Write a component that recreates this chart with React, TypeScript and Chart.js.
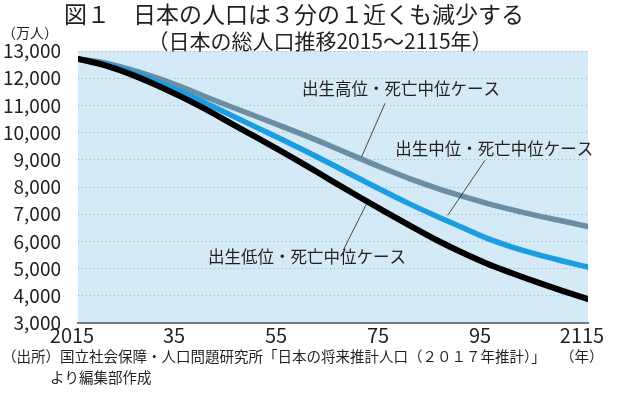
import { useEffect, useRef } from 'react';
import { Chart, registerables } from 'chart.js';

Chart.register(...registerables);

const FONT = '"Noto Sans CJK JP", "Noto Sans", sans-serif';
const TEXT = '#231f20';

// Years of the projection (x categories)
const years = [2015, 2020, 2025, 2030, 2035, 2040, 2045, 2050, 2055, 2060, 2065, 2070, 2075, 2080, 2085, 2090, 2095, 2100, 2105, 2110, 2115];

// 出生高位・死亡中位ケース (万人)
const highFertility = [12709, 12570, 12330, 12040, 11700, 11320, 10950, 10590, 10230, 9860, 9470, 9070, 8680, 8310, 7980, 7680, 7410, 7170, 6950, 6750, 6550];
// 出生中位・死亡中位ケース (万人)
const mediumFertility = [12709, 12532, 12254, 11913, 11522, 11092, 10642, 10192, 9744, 9284, 8808, 8323, 7842, 7380, 6950, 6540, 6130, 5800, 5520, 5280, 5056];
// 出生低位・死亡中位ケース (万人)
const lowFertility = [12709, 12490, 12170, 11780, 11340, 10860, 10340, 9820, 9300, 8760, 8200, 7650, 7110, 6590, 6080, 5620, 5200, 4840, 4500, 4180, 3880];

const xTickYears = [2015, 2035, 2055, 2075, 2095, 2115];
const yMin = 3000;
const yMax = 13000;
const yStep = 1000;

const seriesNames = ['出生低位・死亡中位ケース', '出生中位・死亡中位ケース', '出生高位・死亡中位ケース'];

const titleText = '図１　日本の人口は３分の１近くも減少する';
const subtitleText = '（日本の総人口推移2015～2115年）';
const unitText = '（万人）';
const xUnitText = '（年）';
const sourceLine1 = '（出所）国立社会保障・人口問題研究所「日本の将来推計人口（２０１７年推計）」';
const sourceLine2 = 'より編集部作成';

// Label annotations in data coordinates: text anchor and leader line ends
const annotations = [
  { text: seriesNames[2], x: 2058.9, y: 11629, from: [2075.2, 11078], to: [2070.6, 9103] },
  { text: seriesNames[1], x: 2077.2, y: 9423, from: [2094.8, 8982], to: [2087.5, 6960] },
  { text: seriesNames[0], x: 2040.5, y: 5452, from: [2071.6, 7390], to: [2067.0, 5673] },
];

const toPoints = (vals: number[]) => years.map((yr, i) => ({ x: yr, y: vals[i] }));

const plotBg = {
  id: 'plotBg',
  beforeDraw(chart: any) {
    const { ctx, chartArea } = chart;
    ctx.save();
    ctx.fillStyle = '#d5eaf7';
    ctx.fillRect(chartArea.left, chartArea.top, chartArea.right - chartArea.left, chartArea.bottom - chartArea.top);
    ctx.restore();
  },
};

const decor = {
  id: 'decor',
  afterDraw(chart: any) {
    const { ctx } = chart;
    const xs = chart.scales.x;
    const ys = chart.scales.y;
    ctx.save();
    ctx.fillStyle = TEXT;
    ctx.textBaseline = 'middle';
    // title
    ctx.textAlign = 'center';
    ctx.font = `23px ${FONT}`;
    ctx.fillText(titleText, 294, 14);
    ctx.font = `21px ${FONT}`;
    ctx.fillText(subtitleText, 320, 41);
    ctx.textAlign = 'left';
    ctx.font = `14px ${FONT}`;
    ctx.fillText(unitText, 2, 33);
    // footer
    ctx.font = `14.5px ${FONT}`;
    ctx.fillText(sourceLine1, 2, 356);
    ctx.fillText(sourceLine2, 50, 377);
    ctx.fillText(xUnitText, 560, 356);
    // annotations
    ctx.font = `16.5px ${FONT}`;
    ctx.strokeStyle = '#231f20';
    ctx.lineWidth = 0.8;
    annotations.forEach((a) => {
      ctx.fillText(a.text, xs.getPixelForValue(a.x), ys.getPixelForValue(a.y));
      ctx.beginPath();
      ctx.moveTo(xs.getPixelForValue(a.from[0]), ys.getPixelForValue(a.from[1]));
      ctx.lineTo(xs.getPixelForValue(a.to[0]), ys.getPixelForValue(a.to[1]));
      ctx.stroke();
    });
    ctx.restore();
  },
};

export default function App() {
  const ref = useRef<HTMLCanvasElement>(null);
  useEffect(() => {
    const canvas = ref.current;
    if (!canvas) return;
    const chart = new Chart(canvas, {
      type: 'line',
      data: {
        datasets: [
          { label: seriesNames[0], data: toPoints(lowFertility), borderColor: '#000000', borderWidth: 6 },
          { label: seriesNames[1], data: toPoints(mediumFertility), borderColor: '#1b9de2', borderWidth: 5.5 },
          { label: seriesNames[2], data: toPoints(highFertility), borderColor: '#6b8ea3', borderWidth: 5.5 },
        ].map((d) => ({ ...d, pointRadius: 0, fill: false, cubicInterpolationMode: 'monotone' as const, borderCapStyle: 'round' as const, borderJoinStyle: 'round' as const })),
      },
      options: {
        responsive: false,
        animation: false,
        devicePixelRatio: 1,
        layout: { padding: { top: 51, right: 32, left: 0, bottom: 0 } },
        plugins: { legend: { display: false }, tooltip: { enabled: false }, title: { display: false } },
        scales: {
          x: {
            type: 'linear',
            min: years[0],
            max: years[years.length - 1],
            afterBuildTicks: (s: any) => { s.ticks = xTickYears.map((v) => ({ value: v })); },
            afterFit: (s: any) => { s.height = 73; },
            ticks: {
              callback: (v: any) => (v === 2015 || v === 2115 ? String(v) : String(v).slice(2)),
              font: { family: FONT, size: 20 },
              color: TEXT,
              padding: 0,
              labelOffset: -6,
              maxRotation: 0,
              autoSkip: false,
            },
            grid: { display: false, drawTicks: false },
            border: { display: true, color: '#6f7d86', width: 2 },
          },
          y: {
            min: yMin,
            max: yMax,
            afterFit: (s: any) => { s.width = 78; },
            ticks: {
              stepSize: yStep,
              font: { family: FONT, size: 19 },
              color: TEXT,
              padding: 17,
            },
            grid: { color: '#9cb0bd', lineWidth: 1, drawTicks: false },
            border: { display: false, dash: [1, 3] },
          },
        },
      },
      plugins: [plotBg, decor],
    });
    return () => chart.destroy();
  }, []);
  return (
    <div style={{ position: 'fixed', left: 0, top: 0, width: 620, height: 396, background: '#fff' }}>
      <canvas ref={ref} width={620} height={396} style={{ display: 'block', width: 620, height: 396 }} />
    </div>
  );
}
